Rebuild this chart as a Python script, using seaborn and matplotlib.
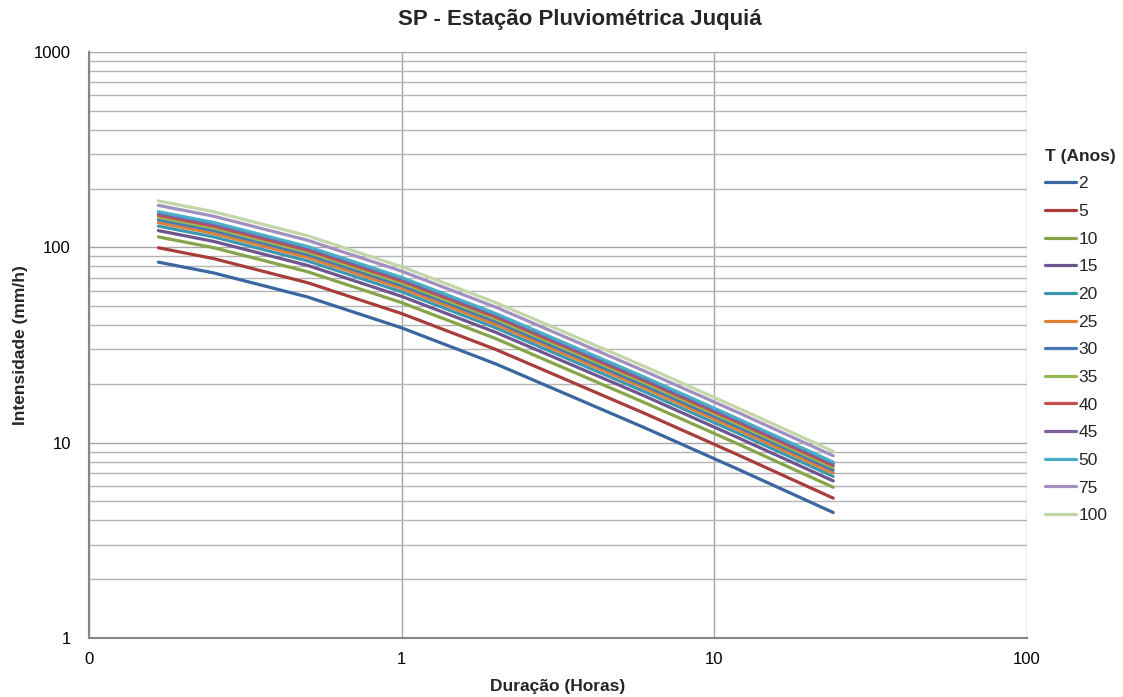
import matplotlib
matplotlib.use("Agg")
import matplotlib.pyplot as plt
import matplotlib.ticker as mticker
import seaborn as sns
import pandas as pd

duracao_min = [10, 15, 30, 60, 120, 360, 720, 1440]

periodos = ['2', '5', '10', '15', '20', '25', '30', '35', '40', '45', '50', '75', '100']

i_2 = [84.0, 74.0, 55.7, 38.7, 25.3, 11.9, 7.27, 4.39]
i_5 = [99.5, 87.6, 65.9, 45.8, 30.0, 14.1, 8.61, 5.20]
i_10 = [113.1, 99.6, 75.0, 52.1, 34.1, 16.0, 9.79, 5.91]
i_15 = [121.8, 107.3, 80.8, 56.1, 36.7, 17.3, 10.54, 6.37]
i_20 = [128.5, 113.2, 85.2, 59.2, 38.7, 18.2, 11.12, 6.72]
i_25 = [133.9, 118.0, 88.8, 61.7, 40.3, 19.0, 11.59, 7.00]
i_30 = [138.5, 122.0, 91.8, 63.8, 41.7, 19.6, 11.99, 7.24]
i_35 = [142.5, 125.5, 94.5, 65.6, 42.9, 20.2, 12.33, 7.45]
i_40 = [146.0, 128.6, 96.8, 67.3, 44.0, 20.7, 12.64, 7.63]
i_45 = [149.3, 131.5, 99.0, 68.8, 45.0, 21.1, 12.92, 7.80]
i_50 = [152.2, 134.1, 100.9, 70.1, 45.8, 21.6, 13.17, 7.95]
i_75 = [164.0, 144.4, 108.7, 75.5, 49.4, 23.2, 14.19, 8.57]
i_100 = [172.9, 152.3, 114.6, 79.6, 52.1, 24.5, 14.96, 9.03]

cores = ['#3A67A0', '#A73E3C', '#86A44A', '#6E558E', '#3D97AF', '#DA8137', '#4778B4',
         '#96B957', '#C4504E', '#7D5FA0', '#4AACC6', '#A18FC0', '#C3D6A8']

x_ticks = [0.1, 1, 10, 100]
x_labels = ['0', '1', '10', '100']
y_ticks = [1, 10, 100, 1000]
y_labels = ['1', '10', '100', '1000']

series = [i_2, i_5, i_10, i_15, i_20, i_25, i_30, i_35, i_40, i_45, i_50, i_75, i_100]
rows = []
for T, vals in zip(periodos, series):
    for d, v in zip(duracao_min, vals):
        rows.append({'Duração (Horas)': d / 60, 'Intensidade (mm/h)': v, 'T (Anos)': T})
df = pd.DataFrame(rows)

sns.set_style('white')
plt.rcParams['font.family'] = ['Liberation Sans', 'DejaVu Sans']

fig = plt.figure(figsize=(11.23, 6.97), dpi=100)
ax = fig.add_axes([89 / 1123, 1 - 638 / 697, (1027 - 89) / 1123, (638 - 52) / 697])

sns.lineplot(data=df, x='Duração (Horas)', y='Intensidade (mm/h)', hue='T (Anos)',
             hue_order=periodos, palette=dict(zip(periodos, cores)), linewidth=2.3,
             ax=ax, sort=False)

ax.set_xscale('log')
ax.set_yscale('log')
ax.set_xlim(0.1, 100)
ax.set_ylim(1, 1000)

ax.set_xticks(x_ticks)
ax.set_xticklabels(x_labels)
ax.set_yticks(y_ticks)
ax.set_yticklabels(y_labels)
ax.xaxis.set_minor_locator(mticker.NullLocator())
ax.yaxis.set_minor_locator(mticker.LogLocator(base=10, subs=range(2, 10)))
ax.yaxis.set_minor_formatter(mticker.NullFormatter())

ax.grid(which='major', axis='both', color='#A6A6A6', linewidth=1.0)
ax.grid(which='minor', axis='y', color='#B4B4B4', linewidth=1.0)
ax.set_axisbelow(True)

for s in ['top', 'right']:
    ax.spines[s].set_visible(False)
for s in ['left', 'bottom']:
    ax.spines[s].set_color('#868686')
    ax.spines[s].set_linewidth(1.5)

ax.tick_params(which='major', direction='out', length=4, color='#868686', width=1.2,
               labelsize=12, labelcolor='black')
ax.tick_params(axis='y', which='major', pad=9)
ax.tick_params(axis='x', which='major', pad=6)
ax.tick_params(which='minor', length=0)

ax.set_xlabel('Duração (Horas)', fontsize=12.5, fontweight='bold', labelpad=9)
ax.set_ylabel('Intensidade (mm/h)', fontsize=12.5, fontweight='bold', labelpad=4)

fig.text(580 / 1123, 1 - 19 / 697, 'SP - Estação Pluviométrica Juquiá', ha='center', va='center',
         fontsize=16, fontweight='bold')

sns.move_legend(ax, 'upper left', bbox_to_anchor=(1.019, 0.835), frameon=False,
                title='T (Anos)', fontsize=12.5, labelspacing=0.72, handlelength=1.8,
                handletextpad=0.12, alignment='left', borderaxespad=0, borderpad=0)
leg = ax.get_legend()
leg.get_title().set_fontweight('bold')
leg.get_title().set_fontsize(12.5)
for line in leg.get_lines():
    line.set_linewidth(2.3)

fig.savefig('out.png', dpi=100)
